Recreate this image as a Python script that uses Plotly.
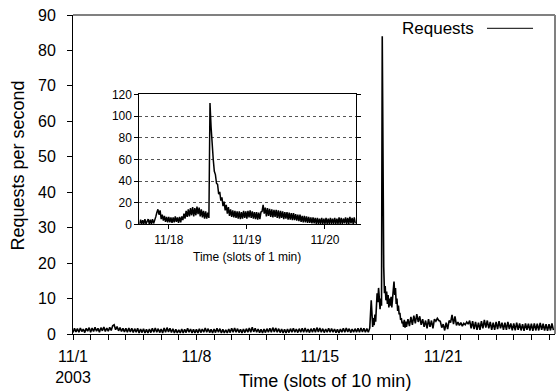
import plotly.graph_objects as go

# ---------------- main series: requests per second, 10-min slots ----------------
# days 0..16 (11/1 - 11/17), one value every 2 hours (12 slots)
pre_rows = [
    [0.4, 1.6, 0.6, 1.5, 0.5, 1.7, 0.7, 1.4, 0.4, 1.6, 0.8, 1.8],
    [0.5, 1.7, 0.7, 1.9, 0.8, 1.6, 0.5, 1.8, 0.9, 2.0, 0.7, 1.7],
    [0.8, 1.9, 1.0, 2.3, 2.6, 1.2, 2.1, 0.9, 1.8, 0.7, 1.6, 0.6],
    [1.6, 0.5, 1.7, 0.6, 1.6, 0.4, 1.5, 0.5, 1.6, 0.3, 1.4, 0.4],
    [1.5, 0.3, 1.3, 0.3, 1.4, 0.4, 1.6, 0.5, 1.7, 0.5, 1.5, 0.4],
    [1.4, 0.3, 1.7, 0.5, 1.8, 0.6, 1.6, 0.4, 1.5, 0.3, 1.3, 0.3],
    [1.2, 0.3, 1.4, 0.3, 1.3, 0.4, 1.6, 0.5, 1.4, 0.3, 1.3, 0.3],
    [1.3, 0.3, 1.5, 0.4, 1.4, 0.5, 1.7, 0.5, 1.5, 0.4, 1.3, 0.3],
    [1.4, 0.4, 1.6, 0.5, 1.5, 0.3, 1.3, 0.3, 1.2, 0.3, 1.4, 0.4],
    [1.6, 0.5, 1.7, 0.5, 1.5, 0.4, 1.3, 0.3, 1.4, 0.4, 1.5, 0.5],
    [1.7, 0.5, 1.9, 0.6, 1.6, 0.5, 1.4, 0.4, 1.3, 0.3, 1.4, 0.4],
    [1.5, 0.5, 1.6, 0.5, 1.8, 0.6, 1.7, 0.5, 1.5, 0.4, 1.4, 0.3],
    [1.3, 0.3, 1.4, 0.4, 1.5, 0.5, 1.6, 0.5, 1.4, 0.4, 1.5, 0.5],
    [1.6, 0.5, 1.7, 0.5, 1.4, 0.4, 1.5, 0.5, 1.6, 0.5, 1.8, 0.6],
    [1.7, 0.5, 1.5, 0.4, 1.4, 0.5, 1.6, 0.5, 1.5, 0.5, 1.4, 0.4],
    [1.3, 0.3, 1.4, 0.5, 1.6, 0.5, 1.7, 0.6, 1.5, 0.4, 1.4, 0.5],
    [1.5, 0.5, 1.6, 0.5, 1.7, 0.6, 1.6, 0.5, 1.5, 0.5, 1.7, 9.5],
]
# days 17..18 (flash crowd), one value every hour (6 slots)
burst_vals = [
    2.0, 4.5, 2.5, 5.5, 3.5, 8.5, 11.5, 9.0, 13.0, 10.0, 7.0, 10.0,
    8.0, 84.0, 36.0, 19.0, 11.5, 13.5, 9.5, 12.0, 8.5, 11.0, 7.5, 10.0,
    8.0, 10.5, 7.5, 10.0, 11.0, 14.8, 11.0, 13.0, 8.5, 10.0, 6.5, 8.0,
    5.5, 6.0, 4.0, 4.5, 3.0, 3.5, 2.0, 4.0, 1.8, 3.5, 2.0, 4.0,
]
# days 19..27, one value every 2 hours
post_rows = [
    [4.2, 2.2, 4.8, 2.6, 5.2, 3.0, 5.6, 3.4, 5.0, 2.6, 4.2, 2.0],
    [3.8, 1.6, 4.2, 2.0, 3.8, 1.6, 4.2, 3.6, 4.4, 3.8, 3.6, 1.8],
    [2.8, 1.0, 3.2, 1.4, 3.8, 3.2, 5.4, 2.8, 5.0, 2.4, 3.4, 2.4],
    [3.2, 2.2, 3.0, 2.6, 3.4, 2.8, 3.8, 1.6, 3.6, 1.4, 3.4, 1.2],
    [3.2, 1.2, 3.6, 1.6, 4.0, 1.8, 3.8, 1.6, 3.4, 1.2, 3.2, 1.2],
    [3.4, 1.4, 3.6, 1.6, 3.2, 1.2, 3.2, 1.2, 3.4, 1.4, 3.0, 1.0],
    [3.0, 1.0, 3.2, 1.2, 3.0, 1.0, 2.8, 0.9, 3.0, 1.2, 2.9, 1.0],
    [2.9, 0.9, 3.0, 1.0, 2.9, 1.0, 3.1, 1.2, 2.9, 1.0, 2.8, 0.9],
    [2.8, 1.0, 3.0, 1.1],
]
main_tickvals = [0, 1008, 2016, 3024]
main_ticktext = ["11/1<br>2003", "11/8", "11/15", "11/21"]

# ---------------- inset series: 1-min slots, sampled every 20 min from 11/17 15:00 ----------------
inset_rows = [
    [0.5, 4.5, 0.5, 4, 0.5, 5, 0.5, 4, 5, 0.5, 4.5, 0.5, 5, 1, 5.5, 7, 11, 14],
    [9, 13, 5, 9, 3.5, 8, 2.5, 7, 2, 7, 2, 6.5, 1.5, 6.5, 2, 7.5, 2.5, 6.5],
    [1.5, 7, 2, 7.5, 4, 10, 5.5, 12.5, 7, 14, 7.5, 15, 8.5, 16, 7.5, 15, 8.5, 16.5],
    [9.5, 15.5, 7.5, 14, 6.5, 12.5, 5.5, 12, 5.5, 11, 6, 112, 90, 68, 60, 49, 46, 38],
    [37, 28, 30, 22, 25, 17, 21, 13, 18, 10, 16, 8, 14, 7, 13, 6.5, 12.5, 6],
    [12, 5.5, 12, 5, 11.5, 5.5, 12.5, 6, 12, 5.5, 12.5, 6.5, 13, 6, 12, 5.5, 11.5, 5],
    [11.5, 4.5, 11, 5, 11.5, 12, 18, 10, 15.5, 7.5, 15, 8, 14.5, 7, 14, 6.5, 13.5, 7],
    [13.5, 6, 13, 5.5, 12.5, 6, 12, 5, 11.5, 5.5, 11.5, 4.5, 11, 4.5, 10.5, 4, 10.5, 4],
    [9.5, 3.5, 9, 3, 9, 2.5, 8, 2, 8, 2, 7.5, 1.5, 7, 1.5, 6.5, 1, 6.5, 1],
    [6, 0.5, 6, 0.5, 5.5, 0.5, 6, 0.5, 5.5, 0.5, 6, 0.5, 5.5, 0.5, 6, 0.5, 5.5, 0.5],
    [6, 0.5, 5.5, 0.5, 6.5, 0.5, 6, 0.5, 5.5, 1, 6.5, 0.5, 6, 0.5, 7, 1, 6, 0.5, 6.5, 1],
]
inset_tickvals = [1440, 2880, 4320]
inset_ticktext = ["11/18", "11/19", "11/20"]

# ---------------- assemble x grids (slot indices) ----------------
pre_vals = [v for r in pre_rows for v in r]
post_vals = [v for r in post_rows for v in r]
main_x = ([i * 12 for i in range(len(pre_vals))]
          + [17 * 144 + i * 6 for i in range(len(burst_vals))]
          + [19 * 144 + i * 12 for i in range(len(post_vals))])
main_y = pre_vals + burst_vals + post_vals

inset_vals = [v for r in inset_rows for v in r]
inset_x = [900 + 20 * i for i in range(len(inset_vals))]

FONT = "Liberation Sans, Arial, Helvetica, sans-serif"

fig = go.Figure()
fig.add_trace(go.Scatter(x=main_x, y=main_y, mode="lines",
                         line=dict(color="black", width=1.6),
                         xaxis="x", yaxis="y", showlegend=False, name="Requests"))
fig.add_trace(go.Scatter(x=inset_x, y=inset_vals, mode="lines",
                         line=dict(color="black", width=1.5),
                         xaxis="x2", yaxis="y2", showlegend=False))

fig.update_layout(
    width=556, height=391,
    margin=dict(l=73, r=1, t=15, b=57),
    paper_bgcolor="white", plot_bgcolor="white",
    font=dict(family=FONT, color="black"),
    xaxis=dict(range=[0, 3937], tickvals=main_tickvals, ticktext=main_ticktext,
               ticks="outside", ticklen=5, tickcolor="black", showline=True,
               linecolor="black", linewidth=1, showgrid=False, zeroline=False,
               tickfont=dict(size=16), ticklabelstandoff=3,
               minor=dict(dtick=144, tick0=0, ticks="outside", ticklen=5,
                          tickcolor="black", showgrid=False)),
    yaxis=dict(range=[0, 90], dtick=10, ticks="outside", ticklen=5,
               tickcolor="black", showline=True, linecolor="black", linewidth=1,
               showgrid=False, zeroline=False, tickfont=dict(size=16),
               ticklabelstandoff=8),
    xaxis2=dict(domain=[0.1376, 0.5871], anchor="y2", range=[897, 4892],
                tickvals=inset_tickvals, ticktext=inset_ticktext,
                ticks="outside", ticklen=4, tickcolor="black", showline=True,
                mirror=True, linecolor="black", linewidth=1, showgrid=False,
                zeroline=False, tickfont=dict(size=12)),
    yaxis2=dict(domain=[0.3433, 0.7514], anchor="x2", range=[0, 120], dtick=20,
                ticks="outside", ticklen=4, tickcolor="black", showline=True,
                mirror="ticks", linecolor="black", linewidth=1, showgrid=True,
                gridcolor="#555555", griddash="dot", gridwidth=1,
                zeroline=False, tickfont=dict(size=12)),
    shapes=[
        dict(type="line", xref="paper", yref="paper", x0=0, x1=1, y0=1, y1=1,
             line=dict(color="#808080", width=2)),
        dict(type="line", xref="paper", yref="paper", x0=1, x1=1, y0=0, y1=1,
             line=dict(color="#808080", width=2)),
        dict(type="line", xref="paper", yref="paper", x0=0.8589, x1=0.9544,
             y0=0.9583, y1=0.9583, line=dict(color="black", width=1)),
    ],
    annotations=[
        dict(text="Requests per second", xref="paper", yref="paper",
             x=-0.1151, y=0.5266, textangle=-90, showarrow=False,
             xanchor="center", yanchor="middle", font=dict(size=18)),
        dict(text="Time (slots of 10 min)", xref="paper", yref="paper",
             x=0.5222, y=-0.1473, showarrow=False,
             xanchor="center", yanchor="middle", font=dict(size=18)),
        dict(text="Time (slots of 1 min)", xref="paper", yref="paper",
             x=0.3614, y=0.2423, showarrow=False,
             xanchor="center", yanchor="middle", font=dict(size=12)),
        dict(text="Requests", xref="paper", yref="paper",
             x=0.8361, y=0.9583, showarrow=False,
             xanchor="right", yanchor="middle", font=dict(size=17)),
    ],
)

fig.write_html("out.html", config={"displayModeBar": False},
               post_script="document.body.style.margin='0px';")
